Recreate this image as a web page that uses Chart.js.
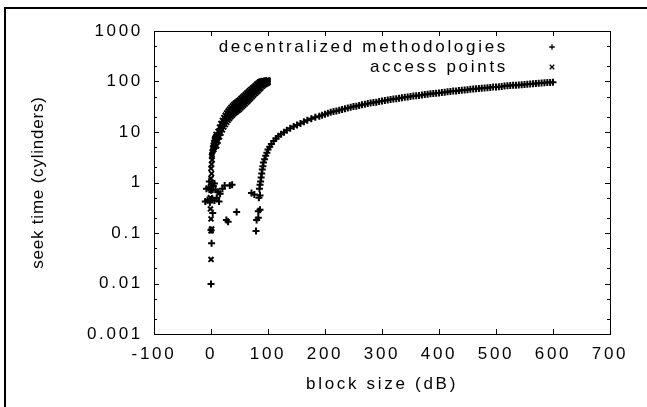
<!DOCTYPE html>
<html><head><meta charset="utf-8">
<script src="https://cdn.jsdelivr.net/npm/chart.js@4/dist/chart.umd.min.js"></script>
<style>html,body{margin:0;padding:0;background:#fff}#wrap{width:647px;height:407px}</style>
</head><body><div id="wrap"><canvas id="c" width="647" height="407"></canvas></div>
<script>
const xTickValues = [-100, 0, 100, 200, 300, 400, 500, 600, 700];
const yTickValues = [0.001, 0.01, 0.1, 1, 10, 100, 1000];
const yTickLabels = ['0.001', '0.01', '0.1', '1', '10', '100', '1000'];
const xTitle = 'block size (dB)';
const yTitle = 'seek time (cylinders)';
const seriesNames = ['decentralized methodologies', 'access points'];

// "decentralized methodologies" (+): scattered low points and the long curve
const decentralizedScatter = [
  [0, 0.0098], [1, 0.063], [0, 0.115], [3, 0.25], [30, 0.167], [45, 0.26], [27, 0.18],
  [-10, 0.42], [-6, 0.45], [-2, 0.40], [2, 0.48], [6, 0.44], [10, 0.50], [14, 0.42],
  [-8, 0.75], [-4, 0.80], [0, 0.70], [4, 0.85], [8, 0.72], [12, 0.65], [16, 0.60], [20, 0.75],
  [24, 0.87], [33, 0.87], [37, 0.9], [-3, 1.05], [2, 1.0], [6, 0.95],
  [71, 0.62], [76, 0.58], [84, 0.50], [86, 0.55], [83, 0.27], [86, 0.29], [80, 0.18], [83, 0.20], [79, 0.11]
];
const decentralizedCurve = [
  [85, 0.75], [86, 0.9], [87, 1.05], [88, 1.25], [89, 1.5], [90, 1.8], [91, 2.1], [92, 2.5], [94, 2.9],
  [96, 3.4], [98, 3.9], [100, 4.5], [103, 5.1], [106, 5.8], [110, 6.6], [114, 7.4], [118, 8.2],
  [123, 9.0], [128, 9.9], [133, 10.8], [139, 11.8], [145, 12.8], [151, 13.8], [157, 14.8], [163, 15.9],
  [169, 17.0], [176, 18.2], [183, 19.5], [190, 20.6], [195, 21.5],
  [200, 22.5], [205, 23.5], [210, 24.5], [215, 25.5], [220, 26], [225, 27], [230, 28], [235, 29],
  [240, 30], [245, 31], [250, 32], [255, 32.5], [260, 33.5], [265, 34.5], [270, 35.5], [275, 36.5],
  [280, 37.5], [285, 38.5], [290, 39], [295, 40], [300, 41], [305, 42], [310, 43], [315, 44],
  [320, 45], [325, 45.5], [330, 46.5], [335, 47.5], [340, 48.5], [345, 49.5], [350, 50.5], [355, 51.5],
  [360, 52], [365, 53], [370, 54], [375, 55], [380, 56], [385, 57], [390, 58], [395, 58.5],
  [400, 59.5], [405, 60.5], [410, 61.5], [415, 62.5], [420, 63.5], [425, 64.5], [430, 65], [435, 66],
  [440, 67], [445, 68], [450, 69], [455, 70], [460, 71], [465, 71.5], [470, 72.5], [475, 73.5],
  [480, 74.5], [485, 75.5], [490, 76.5], [495, 77.5], [500, 78], [505, 79], [510, 80], [515, 81],
  [520, 82], [525, 83], [530, 84], [535, 84.5], [540, 85.5], [545, 86.5], [550, 87.5], [555, 88.5],
  [560, 89.5], [565, 90.5], [570, 91], [575, 92], [580, 93], [585, 94], [590, 95], [595, 96], [600, 97]
];

// "access points" (x): low points and steep column near 0, then a thick band up to x = 100
const accessLow = [
  [0, 0.03], [0, 0.11], [1, 0.12], [0, 0.19], [-1, 0.3], [-1, 0.5], [0, 0.7], [1, 0.9], [0, 1.2],
  [1, 1.5], [0, 1.9], [1, 2.3], [2, 2.8], [1, 3.3], [2, 4.0], [3, 4.8], [2, 3.6], [4, 5.5], [3, 4.2],
  [5, 6.2], [4, 5.0], [6, 7], [5, 4.5], [7, 7.5], [6, 5], [8, 8], [7, 5.2], [9, 9]
];
const accessBandX = [10, 12.5, 15, 17.5, 20, 22.5, 25, 27.5, 30, 32.5, 35, 37.5, 40, 42.5, 45, 47.5, 50,
  52.5, 55, 57.5, 60, 62.5, 65, 67.5, 70, 72.5, 75, 77.5, 80, 82.5, 85, 87.5, 90, 92.5, 95, 97.5, 100];
const accessBandUpper = [8, 10.3, 12.5, 14.8, 17, 19.3, 21.5, 23.8, 26, 28.3, 30.5, 32.8, 35, 37, 39, 41, 43,
  46, 49, 52, 55, 58.5, 62, 66, 70, 74, 78, 83, 88, 93, 98, 101, 103, 104, 105, 106, 107];
const accessBandMiddle = [6.5, 8.2, 10, 11.8, 13.7, 15.5, 17.4, 19.2, 21, 22.9, 24.7, 26.5, 28.4, 30, 31.6, 33.1, 34.7,
  37, 39.5, 42, 44.5, 47.4, 50.5, 54, 57.5, 61, 65, 69, 73.5, 78, 83, 87, 91, 94, 96, 98, 100];
const accessBandLower = [5.3, 6.6, 8, 9.5, 11, 12.5, 14, 15.5, 17, 18.5, 20, 21.5, 23, 24.3, 25.5, 26.8, 28,
  30, 32, 34, 36, 38.5, 41, 44, 47, 50.5, 54, 57.5, 61, 65, 70, 74, 80, 84, 88, 91, 94];

const FONT_FAMILY = '"Liberation Sans", Arial, sans-serif';
const FONT_SIZE = 17;
const SPACING = '2.7px';
const markerStyles = ['cross', 'crossRot'];

const toPts = arr => arr.map(p => ({x: p[0], y: p[1]}));
const bandPts = ys => accessBandX.map((x, i) => ({x: x, y: ys[i]}));

const framePlugin = {
  id: 'gnuFrame',
  beforeDraw(chart) {
    const ctx = chart.ctx;
    ctx.save();
    ctx.fillStyle = '#fff';
    ctx.fillRect(0, 0, chart.width, chart.height);
    ctx.strokeStyle = '#000';
    ctx.lineWidth = 2;
    ctx.beginPath();
    ctx.moveTo(5, 407);
    ctx.lineTo(5, 8);
    ctx.lineTo(647, 8);
    ctx.stroke();
    ctx.restore();
    ctx.letterSpacing = SPACING;
  },
  afterDraw(chart) {
    const ctx = chart.ctx;
    const a = chart.chartArea;
    const xs = chart.scales.x, ys = chart.scales.y;
    ctx.save();
    ctx.strokeStyle = '#000';
    ctx.lineWidth = 1;
    ctx.strokeRect(Math.round(a.left) + 0.5, Math.round(a.top) + 0.5,
                   Math.round(a.right - a.left), Math.round(a.bottom - a.top));
    ctx.beginPath();
    xTickValues.forEach(v => {
      const px = Math.round(xs.getPixelForValue(v)) + 0.5;
      if (px > a.left + 1 && px < a.right - 1) {
        ctx.moveTo(px, a.bottom); ctx.lineTo(px, a.bottom - 5);
        ctx.moveTo(px, a.top); ctx.lineTo(px, a.top + 5);
      }
    });
    yTickValues.forEach(v => {
      const py = Math.round(ys.getPixelForValue(v)) + 0.5;
      if (py > a.top + 1 && py < a.bottom - 1) {
        ctx.moveTo(a.left, py); ctx.lineTo(a.left + 5, py);
        ctx.moveTo(a.right, py); ctx.lineTo(a.right - 5, py);
      }
      if (v < 1000) {
        [2, 5].forEach(m => {
          const q = Math.round(ys.getPixelForValue(v * m)) + 0.5;
          ctx.moveTo(a.left, q); ctx.lineTo(a.left + 3, q);
          ctx.moveTo(a.right, q); ctx.lineTo(a.right - 3, q);
        });
      }
    });
    ctx.stroke();

    ctx.font = FONT_SIZE + 'px ' + FONT_FAMILY;
    ctx.fillStyle = '#000';

    // y-axis title (rotated)
    ctx.save();
    ctx.letterSpacing = '0.8px';
    ctx.translate(38, (a.top + a.bottom) / 2);
    ctx.rotate(-Math.PI / 2);
    ctx.textAlign = 'center';
    ctx.textBaseline = 'middle';
    ctx.fillText(yTitle, 0, 0);
    ctx.restore();

    // legend
    ctx.letterSpacing = SPACING;
    ctx.textAlign = 'right';
    ctx.textBaseline = 'middle';
    const rows = [47, 67];
    chart.data.datasets.slice(0, 2).forEach((ds, i) => {
      ctx.fillText(ds.label, 508, rows[i]);
      ctx.strokeStyle = '#000';
      ctx.lineWidth = 1.3;
      Chart.helpers.drawPoint(ctx, {pointStyle: markerStyles[i], radius: i === 0 ? 2.8 : 3.2, borderWidth: 1.3, rotation: 0}, 552, rows[i]);
    });
    ctx.restore();
  }
};

const common = {borderColor: '#000', backgroundColor: '#000', showLine: false, pointRadius: 3.5, pointBorderWidth: 2};

new Chart(document.getElementById('c'), {
  type: 'scatter',
  data: {
    datasets: [
      Object.assign({label: seriesNames[0], pointStyle: markerStyles[0],
        data: toPts(decentralizedScatter).concat(toPts(decentralizedCurve))}, common),
      Object.assign({label: seriesNames[1], pointStyle: markerStyles[1],
        data: toPts(accessLow).concat(bandPts(accessBandUpper), bandPts(accessBandMiddle), bandPts(accessBandLower))}, common)
    ]
  },
  options: {
    responsive: false,
    animation: false,
    devicePixelRatio: 1,
    events: [],
    layout: {padding: {left: 0, right: 37, top: 31, bottom: 0}},
    plugins: {legend: {display: false}, tooltip: {enabled: false}},
    scales: {
      x: {
        type: 'linear', min: -100, max: 700,
        afterBuildTicks: s => { s.ticks = xTickValues.map(v => ({value: v})); },
        afterFit: s => { s.height = 73; },
        grid: {display: false, drawTicks: false},
        border: {display: false},
        ticks: {color: '#000', padding: 10, maxRotation: 0, autoSkip: false,
                font: {family: FONT_FAMILY, size: FONT_SIZE},
                callback: v => String(v)},
        title: {display: true, text: xTitle, color: '#000',
                font: {family: FONT_FAMILY, size: FONT_SIZE}, padding: {top: 0, bottom: 12}}
      },
      y: {
        type: 'logarithmic', min: 0.001, max: 1000,
        afterBuildTicks: s => { s.ticks = yTickValues.map(v => ({value: v})); },
        afterFit: s => { s.width = 154; },
        grid: {display: false, drawTicks: false},
        border: {display: false},
        ticks: {color: '#000', padding: 11, autoSkip: false,
                font: {family: FONT_FAMILY, size: FONT_SIZE},
                callback: v => { const i = yTickValues.indexOf(v); return i >= 0 ? yTickLabels[i] : ''; }},
        title: {display: false, text: yTitle}
      }
    }
  },
  plugins: [framePlugin]
});
</script>
</body></html>
